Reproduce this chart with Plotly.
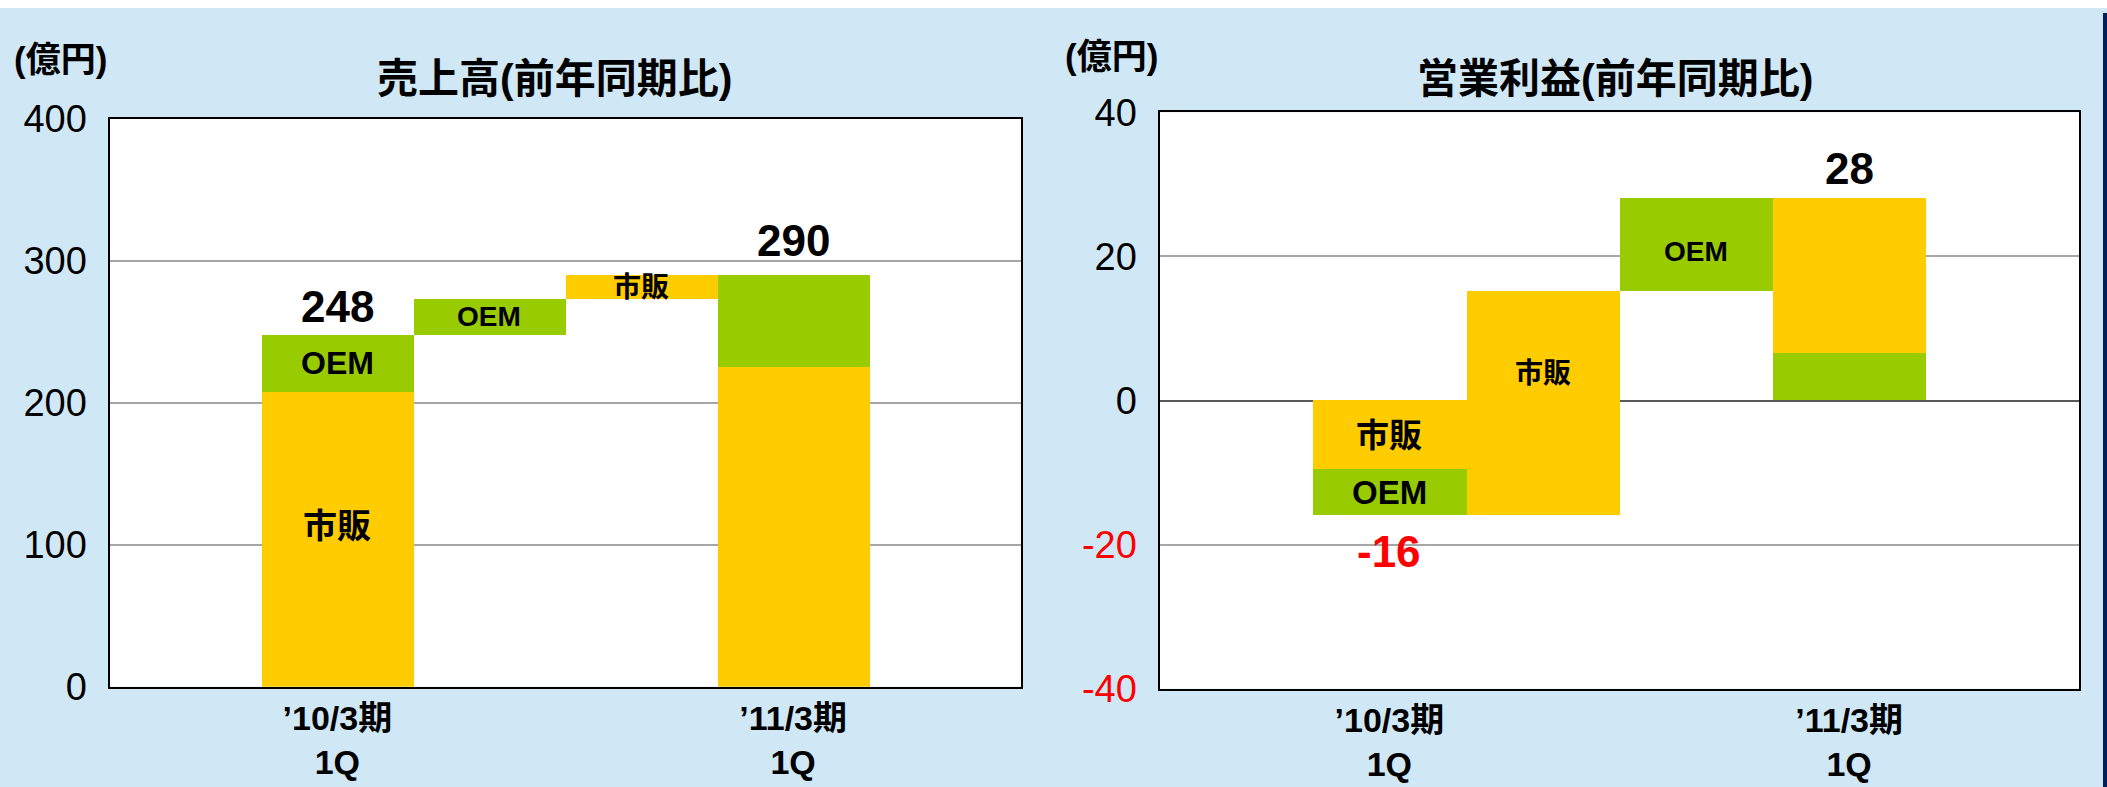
import plotly.graph_objects as go

# 売上高 (億円): '10/3期 1Q, '11/3期 1Q
sales_shihan = [208, 225]
sales_oem = [40, 65]
# 営業利益 (億円)
profit_shihan = [-9.6, 21.4]
profit_oem = [-6.3, 6.6]

period_labels = ["’10/3期<br>1Q", "’11/3期<br>1Q"]
sales_ticks = [0, 100, 200, 300, 400]
profit_ticks = [-40, -20, 0, 20, 40]

YELLOW = "#FFCC00"
GREEN = "#99CC00"
FONT = "Liberation Sans, Noto Sans CJK JP, sans-serif"
W, H = 2107, 787

fig = go.Figure()


def add_bar(x, base, value, color, xa, ya):
    fig.add_trace(go.Bar(
        x=[x], y=[value], base=[base], width=1,
        marker=dict(color=color, line_width=0),
        xaxis=xa, yaxis=ya, showlegend=False, hoverinfo="skip",
    ))


def add_label(x, y, text, size, xa, ya, color="black", yanchor="middle", yshift=0):
    fig.add_annotation(
        x=x, y=y, xref=xa, yref=ya, text="<b>%s</b>" % text, showarrow=False,
        font=dict(family=FONT, size=size, color=color),
        xanchor="center", yanchor=yanchor, yshift=yshift,
    )


# left: 売上高 waterfall
s0, s1 = sales_shihan
o0, o1 = sales_oem
total0 = s0 + o0
total1 = s1 + o1
add_bar(1, 0, s0, YELLOW, "x", "y")
add_bar(1, s0, o0, GREEN, "x", "y")
add_bar(2, total0, o1 - o0, GREEN, "x", "y")
add_bar(3, total0 + o1 - o0, s1 - s0, YELLOW, "x", "y")
add_bar(4, 0, s1, YELLOW, "x", "y")
add_bar(4, s1, o1, GREEN, "x", "y")

add_label(1, s0 / 2 + 9, "市販", 34, "x", "y")
add_label(1, s0 + o0 / 2, "OEM", 32, "x", "y")
add_label(2, total0 + (o1 - o0) / 2, "OEM", 28, "x", "y")
add_label(3, total0 + (o1 - o0) + (s1 - s0) / 2, "市販", 28, "x", "y")
add_label(1, total0, "%d" % round(total0), 44, "x", "y", yanchor="bottom", yshift=2)
add_label(4, total1, "%d" % round(total1), 44, "x", "y", yanchor="bottom", yshift=8)

# right: 営業利益 waterfall
ps0, ps1 = profit_shihan
po0, po1 = profit_oem
ptotal0 = ps0 + po0
ptotal1 = ps1 + po1
pmid = ptotal0 + ps1 - ps0
add_bar(1, 0, ps0, YELLOW, "x2", "y2")
add_bar(1, ps0, po0, GREEN, "x2", "y2")
add_bar(2, ptotal0, ps1 - ps0, YELLOW, "x2", "y2")
add_bar(3, pmid, po1 - po0, GREEN, "x2", "y2")
add_bar(4, 0, po1, GREEN, "x2", "y2")
add_bar(4, po1, ps1, YELLOW, "x2", "y2")

add_label(1, ps0 / 2, "市販", 33, "x2", "y2")
add_label(1, ps0 + po0 / 2, "OEM", 33, "x2", "y2")
add_label(2, ptotal0 + (ps1 - ps0) / 2, "市販", 28, "x2", "y2", yshift=30)
add_label(3, pmid + (po1 - po0) / 2, "OEM", 28, "x2", "y2", yshift=-6)
add_label(4, ptotal1, "%d" % round(ptotal1), 44, "x2", "y2", yanchor="bottom", yshift=4)
add_label(1, ptotal0, "%d" % round(ptotal0), 44, "x2", "y2", color="#FF0000",
          yanchor="top", yshift=-10)

profit_ticktext = [
    ("<span style='color:#FF0000'>%d</span>" % v) if v < 0 else "%d" % v
    for v in profit_ticks
]

# titles and unit labels
for cx, txt in [(554, "売上高(前年同期比)"), (1615, "営業利益(前年同期比)")]:
    fig.add_annotation(x=cx / W, y=1 - 79 / H, xref="paper", yref="paper",
                       xanchor="center", yanchor="middle",
                       text="<b>%s</b>" % txt, showarrow=False,
                       font=dict(family=FONT, size=41, color="black"))
for lx, ly in [(12, 60), (1063, 57)]:
    fig.add_annotation(x=lx / W, y=1 - ly / H, xref="paper", yref="paper",
                       xanchor="left", yanchor="middle",
                       text="<b>(億円)</b>", showarrow=False,
                       font=dict(family=FONT, size=35, color="black"))

xaxis_style = dict(
    range=[-0.5, 5.5], tickvals=[1, 4], ticktext=period_labels,
    tickfont=dict(family=FONT, size=34, color="black", weight="bold"),
    showline=True, mirror=True, linecolor="black", linewidth=2,
    showgrid=False, zeroline=False, ticks="", ticklabelstandoff=0,
    fixedrange=True, automargin=False,
)
yaxis_style = dict(
    showline=True, mirror=True, linecolor="black", linewidth=2,
    gridcolor="#A6A6A6", gridwidth=1.5, ticks="", ticklabelstandoff=13,
    fixedrange=True, automargin=False,
)

fig.update_layout(
    width=W, height=H,
    margin=dict(l=0, r=0, t=0, b=0),
    paper_bgcolor="#D0E8F5",
    plot_bgcolor="white",
    barmode="overlay",
    bargap=0,
    xaxis=dict(domain=[109.5 / W, 1021 / W], anchor="y", **xaxis_style),
    yaxis=dict(domain=[1 - 686.7 / H, 1 - 119 / H], anchor="x",
               range=[0, 400], tickvals=sales_ticks, zeroline=False,
               tickfont=dict(family=FONT, size=38, color="black"),
               **yaxis_style),
    xaxis2=dict(domain=[1159.5 / W, 2079 / W], anchor="y2", **xaxis_style),
    yaxis2=dict(domain=[1 - 688.7 / H, 1 - 112.3 / H], anchor="x2",
                range=[-40, 40], tickvals=profit_ticks, ticktext=profit_ticktext,
                zeroline=True, zerolinecolor="#595959", zerolinewidth=2,
                tickfont=dict(family=FONT, size=38, color="black"),
                **yaxis_style),
    shapes=[
        dict(type="rect", xref="paper", yref="paper", x0=0, x1=1,
             y0=1 - 8 / H, y1=1, fillcolor="white", line_width=0, layer="below"),
        dict(type="rect", xref="paper", yref="paper", x0=2103 / W, x1=1,
             y0=0, y1=1 - 13 / H, fillcolor="#00205B", line_width=0, layer="below"),
    ],
)

# page body has a default 8px margin; drop it so the figure sits at the corner
fig.write_html("out.html", config={"displayModeBar": False},
               post_script="document.body.style.margin='0';")
